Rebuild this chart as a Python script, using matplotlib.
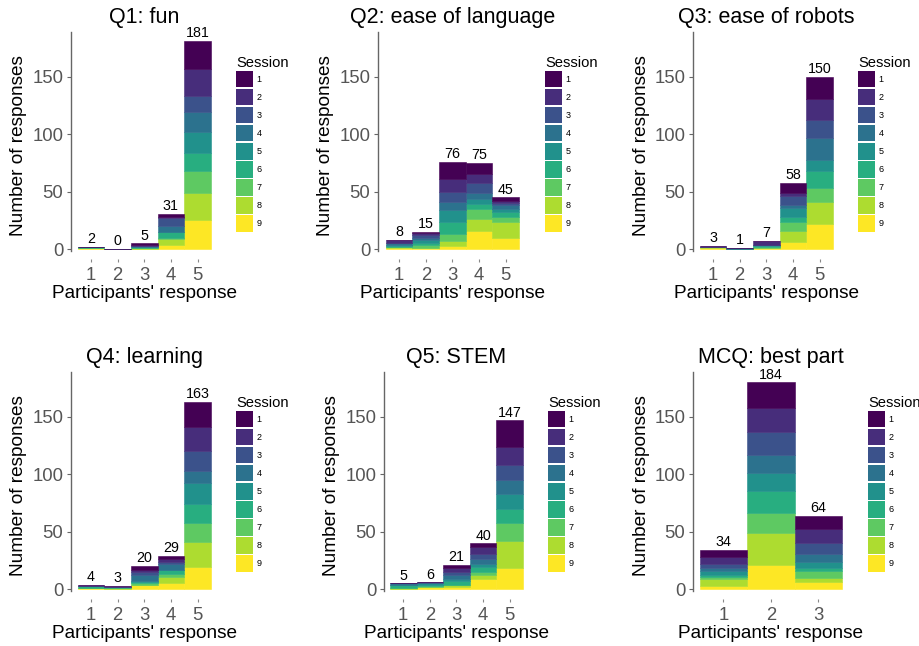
import matplotlib
matplotlib.use('Agg')
import matplotlib.pyplot as plt
import numpy as np
from matplotlib.patches import Rectangle

plt.rcParams['font.family'] = ['Liberation Sans', 'DejaVu Sans']

# ---------------- data ----------------
sessions = ["1", "2", "3", "4", "5", "6", "7", "8", "9"]
likert_cats = ["1", "2", "3", "4", "5"]
mcq_cats = ["1", "2", "3"]

# counts per bar, per session (session 1 .. 9)
q1_counts = [[0, 0, 0, 0, 0, 1, 0, 0, 1],
             [0, 0, 0, 0, 0, 0, 0, 0, 0],
             [1, 1, 0, 1, 0, 1, 0, 1, 0],
             [3, 1, 7, 5, 0, 5, 1, 5, 4],
             [24, 24, 14, 17, 18, 16, 19, 24, 25]]
q1_totals = [2, 0, 5, 31, 181]

q2_counts = [[0, 3, 0, 1, 1, 1, 0, 1, 1],
             [1, 2, 2, 2, 3, 1, 3, 0, 1],
             [15, 11, 9, 7, 10, 11, 6, 4, 3],
             [10, 7, 9, 5, 5, 4, 9, 10, 16],
             [3, 2, 2, 3, 3, 4, 4, 14, 10]]
q2_totals = [8, 15, 76, 75, 45]

q3_counts = [[0, 1, 0, 0, 0, 0, 0, 1, 1],
             [0, 0, 0, 1, 0, 0, 0, 0, 0],
             [0, 3, 0, 0, 1, 1, 1, 0, 1],
             [9, 3, 8, 2, 8, 4, 8, 10, 6],
             [19, 19, 15, 19, 10, 15, 12, 19, 22]]
q3_totals = [3, 1, 7, 58, 150]

q4_counts = [[0, 1, 0, 0, 0, 2, 0, 0, 1],
             [0, 1, 0, 0, 0, 1, 0, 1, 0],
             [3, 2, 3, 5, 1, 1, 1, 0, 4],
             [3, 2, 2, 5, 0, 4, 2, 6, 5],
             [22, 21, 17, 11, 18, 16, 17, 22, 19]]
q4_totals = [4, 3, 20, 29, 163]

q5_counts = [[0, 0, 0, 1, 0, 3, 0, 1, 0],
             [0, 0, 1, 0, 1, 1, 1, 0, 2],
             [3, 3, 3, 3, 2, 3, 0, 2, 2],
             [3, 6, 5, 4, 3, 4, 3, 3, 9],
             [23, 16, 13, 12, 13, 12, 16, 24, 18]]
q5_totals = [5, 6, 21, 40, 147]

mcq_counts = [[6, 6, 4, 2, 4, 1, 2, 6, 3],
              [22, 21, 20, 16, 16, 19, 17, 28, 21],
              [12, 12, 9, 7, 6, 2, 6, 4, 6]]
mcq_totals = [34, 184, 64]

titles = ["Q1: fun", "Q2: ease of language", "Q3: ease of robots",
          "Q4: learning", "Q5: STEM", "MCQ: best part"]
yticks = [0, 50, 100, 150]

# ---------------- layout ----------------
W, H = 919, 646
fig = plt.figure(figsize=(W / 100, H / 100), dpi=100)
colors = plt.cm.viridis(np.linspace(0, 1, 9))

YMIN, YMAX = -8.7, 189
PPU_Y = 1.149
# (left px, top px, px per x unit, x pad, legend x, legend top)
layout = [
    (71, 32, 26.65, 0.75, 236, 70.7),
    (378, 32, 26.65, 0.79, 545, 70.7),
    (693, 32, 26.65, 0.75, 858, 70.7),
    (71, 372, 26.65, 0.75, 236, 410.7),
    (384, 372, 26.65, 0.72, 548, 410.7),
    (693, 372, 47.5, 0.64, 868, 410.7),
]
panels = [
    (likert_cats, q1_counts, q1_totals),
    (likert_cats, q2_counts, q2_totals),
    (likert_cats, q3_counts, q3_totals),
    (likert_cats, q4_counts, q4_totals),
    (likert_cats, q5_counts, q5_totals),
    (mcq_cats, mcq_counts, mcq_totals),
]

def fx(x):
    return x / W

def fy(y):
    return 1 - y / H

for (cats, counts, totals), title, (left, top, ppu, pad, lx, ly) in zip(panels, titles, layout):
    n = len(cats)
    width_px = (n + 2 * pad - 1) * ppu
    height_px = (YMAX - YMIN) * PPU_Y
    ax = fig.add_axes([fx(left), fy(top + height_px), width_px / W, height_px / H])
    x = np.arange(1, n + 1)
    arr = np.array(counts, dtype=float)
    cum = np.zeros(n)
    for s in range(8, -1, -1):
        ax.bar(x, arr[:, s], bottom=cum, width=1.0, color=colors[s],
               edgecolor=colors[s], linewidth=0.4)
        cum += arr[:, s]
    for xi, h, t in zip(x, cum, totals):
        ax.annotate(str(t), (xi, h), xytext=(0, 0.5), textcoords='offset points',
                    ha='center', va='bottom', fontsize=10.3, color='black')
    ax.set_xlim(1 - pad, n + pad)
    ax.set_ylim(YMIN, YMAX)
    ax.set_xticks(x)
    ax.set_xticklabels(cats)
    ax.set_yticks(yticks)
    for sp in ['top', 'right', 'bottom']:
        ax.spines[sp].set_visible(False)
    ax.spines['left'].set_bounds(-2, YMAX)
    ax.spines['left'].set_color('#666666')
    ax.spines['left'].set_linewidth(1.0)
    ax.tick_params(axis='x', length=2.5, width=0.8, color='#888888', pad=3.5,
                   labelsize=13.3, labelcolor='#555555')
    ax.tick_params(axis='y', length=3, width=0.8, color='#666666', pad=2.5,
                   labelsize=13.3, labelcolor='#555555')
    ax.set_facecolor('none')
    ax.set_ylabel('Number of responses', fontsize=13.7, labelpad=3.5)
    ax.set_xlabel("Participants' response", fontsize=13.7, labelpad=0.3)
    ax.set_title(title, fontsize=15.5, pad=6.5)

    # legend
    fig.text(fx(lx), fy(ly - 3.5), 'Session', fontsize=10.6, ha='left', va='baseline')
    key_step = 18.05
    for i, lab in enumerate(sessions):
        ytop = ly + i * key_step
        fig.add_artist(Rectangle((fx(lx), fy(ytop + 16.6)), 17 / W, 16.6 / H,
                                 transform=fig.transFigure, facecolor=colors[i],
                                 edgecolor='none'))
        fig.text(fx(lx + 20.5), fy(ytop + 8.3), lab, fontsize=6.5,
                 ha='left', va='center')

fig.savefig('out.png', dpi=100)
